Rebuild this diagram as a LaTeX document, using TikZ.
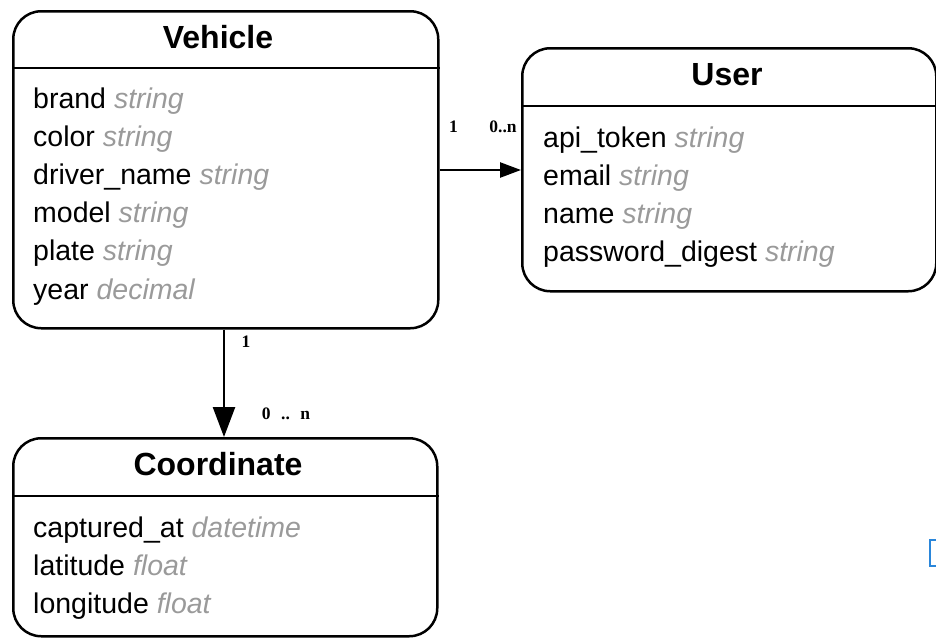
\documentclass[tikz,border=0pt]{standalone}
\usepackage{fontspec}
\setmainfont{Liberation Sans}
\newfontfamily\cardfont{Liberation Serif}
\usetikzlibrary{arrows.meta}
\definecolor{typegray}{HTML}{9A9A9A}
\definecolor{markblue}{HTML}{2A86DA}

\tikzset{
  entity/.style={draw, line width=2.5pt, rounded corners=28pt, inner sep=0pt, anchor=north west},
  title/.style={font=\fontsize{32}{35}\selectfont\bfseries, inner sep=0pt, anchor=base},
  field/.style={font=\fontsize{28.5}{31}\selectfont, anchor=base west, inner sep=0pt},
  card/.style={font=\fontsize{17.5}{19}\selectfont\cardfont\bfseries, inner sep=0pt, anchor=base},
  rel/.style={line width=2.5pt}
}
\newcommand{\attr}[2]{#1 {\color{typegray}\itshape #2}}

\begin{document}
\begin{tikzpicture}[x=1pt,y=-1pt]
\useasboundingbox (0,0) rectangle (936,637);

% tables
\node[entity, minimum width=425, minimum height=317] (vehicle) at (12,10) {};
\node[entity, minimum width=414, minimum height=243] (user) at (521,47) {};
\node[entity, minimum width=424, minimum height=198] (coord) at (12,437) {};

\draw[line width=2.5pt] (vehicle.west |- 0,68) -- (vehicle.east |- 0,68);
\draw[line width=2.5pt] (user.west |- 0,106) -- (user.east |- 0,106);
\draw[line width=2.5pt] (coord.west |- 0,496) -- (coord.east |- 0,496);

\node[title] (vehicle-title) at (218,48) {Vehicle};
\node[title] (user-title) at (727,85) {User};
\node[title] (coord-title) at (218,475) {Coordinate};

% attributes
\foreach \n/\t [count=\i] in {brand/string, color/string, driver\_name/string, model/string, plate/string, year/decimal}
    {
    \node[field] (vehicle-\i) at (33,{108+38.2*(\i-1)}) {\attr{\n}{\t}};
    }
\foreach \n/\t [count=\i] in {api\_token/string, email/string, name/string, password\_digest/string}
    {
    \node[field] (user-\i) at (543,{147+38.2*(\i-1)}) {\attr{\n}{\t}};
    }
\foreach \n/\t [count=\i] in {captured\_at/datetime, latitude/float, longitude/float}
    {
    \node[field] (coord-\i) at (33,{537+38.2*(\i-1)}) {\attr{\n}{\t}};
    }

% relations
\draw[rel, -{Triangle[length=21pt,width=15pt]}] (vehicle.east |- 0,170) -- (user.west |- 0,170);
\node[card] (vu-from) at (453.5,132) {1};
\node[card] (vu-to) at (503,132) {0..n};

\draw[rel, -{Triangle[length=30pt,width=22pt]}] (vehicle.south -| 224,0) -- (coord.north -| 224,0);
\node[card] (vc-from) at (246,347) {1};
\node[card] (vc-to) at (286,419) {0\hspace{0.6em}..\hspace{0.6em}n};

\draw[markblue, line width=2pt] (940,540) -| (930,566) -- (940,566);
\end{tikzpicture}
\end{document}
